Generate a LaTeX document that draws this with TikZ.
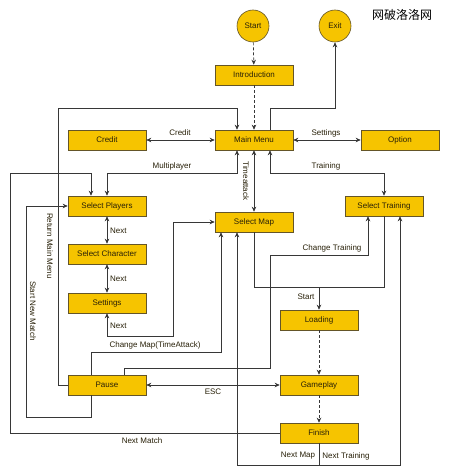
\documentclass[tikz,border=0pt]{standalone}
\usepackage{fontspec}
\setmainfont{Liberation Sans}
\newfontfamily\cjk{Noto Sans CJK SC}
\usetikzlibrary{arrows.meta,calc}
\definecolor{boxfill}{RGB}{246,196,0}
\definecolor{boxline}{RGB}{100,85,40}
\definecolor{linec}{RGB}{55,55,55}
\definecolor{txt}{RGB}{40,32,8}
\begin{document}
\begin{tikzpicture}[x=1pt,y=-1pt,
  box/.style={draw=boxline, fill=boxfill, line width=0.6pt, minimum width=78pt, minimum height=20pt, inner sep=0pt, font=\fontsize{8}{9}\selectfont, text=txt},
  term/.style={circle, draw=boxline, fill=boxfill, line width=0.6pt, minimum size=32pt, inner sep=0pt, font=\fontsize{8}{9}\selectfont, text=txt},
  link/.style={draw=linec, line width=0.7pt, -{Stealth[length=5pt,width=4.5pt]}},
  both/.style={draw=linec, line width=0.7pt, {Stealth[length=5pt,width=4.5pt]}-{Stealth[length=5pt,width=4.5pt]}},
  plain/.style={draw=linec, line width=0.7pt},
  dashlink/.style={link, dash pattern=on 3pt off 2pt},
  lab/.style={font=\fontsize{8}{9}\selectfont, text=txt, inner sep=0pt}
]
\useasboundingbox[fill=white] (0,0) rectangle (449,476);

% watermark
\node[font=\cjk\fontsize{12}{14}\selectfont, inner sep=0pt] (wm) at (402,15) {网破洛洛网};

% nodes
\node[term] (start) at (253,26) {Start};
\node[term] (exit) at (335,26) {Exit};
\node[box] (intro) at (254,75) {Introduction};
\node[box] (mm) at (254,140) {Main Menu};
\node[box] (credit) at (107,140) {Credit};
\node[box] (option) at (400,140) {Option};
\node[box] (sp) at (107,206) {Select Players};
\node[box] (smap) at (254,222) {Select Map};
\node[box] (st) at (384,206) {Select Training};
\node[box] (sc) at (107,254) {Select Character};
\node[box] (set) at (107,303) {Settings};
\node[box] (load) at (319,320) {Loading};
\node[box] (pause) at (107,385) {Pause};
\node[box] (game) at (319,385) {Gameplay};
\node[box] (fin) at (319,433) {Finish};

% coordinates
\coordinate (e1) at (270,108);
\coordinate (e2) at (335,108);
\coordinate (r1) at (58,385);
\coordinate (r2) at (58,108);
\coordinate (r3) at (237,108);
\coordinate (m1) at (237,173);
\coordinate (m2) at (107,173);
\coordinate (t1) at (270,173);
\coordinate (t2) at (384,173);
\coordinate (n1) at (10,433);
\coordinate (n2) at (10,173);
\coordinate (n3) at (91,173);
\coordinate (s1) at (91,417);
\coordinate (s2) at (26,417);
\coordinate (s3) at (26,206);
\coordinate (q1) at (107,336);
\coordinate (q2) at (173,336);
\coordinate (q3) at (173,222);
\coordinate (c1) at (91,352);
\coordinate (c2) at (221,352);
\coordinate (d1) at (124,368);
\coordinate (d2) at (270,368);
\coordinate (d3) at (270,255);
\coordinate (d4) at (368,255);
\coordinate (u1) at (254,287);
\coordinate (u2) at (384,287);
\coordinate (u3) at (319,287);
\coordinate (w1) at (319,465);
\coordinate (w2) at (237,465);
\coordinate (w3) at (400,465);

% connectors
\draw[dashlink] (start) -- (intro);
\draw[dashlink] (intro) -- (mm);
\draw[link] ($(mm.north)+(16,0)$) -- (e1) -- (e2) -- (exit);
\draw[link] (pause.west) -- (r1) -- (r2) -- (r3) -- ($(mm.north)+(-17,0)$);
\draw[both] (credit) -- (mm);
\draw[both] (mm) -- (option);
\draw[both] ($(mm.south)+(-17,0)$) -- (m1) -- (m2) -- (sp);
\draw[both] (mm) -- (smap);
\draw[both] ($(mm.south)+(16,0)$) -- (t1) -- (t2) -- (st);
\draw[link] (fin.west) -- (n1) -- (n2) -- (n3) -- ($(sp.north)+(-16,0)$);
\draw[link] ($(pause.south)+(-16,0)$) -- (s1) -- (s2) -- (s3) -- (sp.west);
\draw[both] (sp) -- (sc);
\draw[both] (sc) -- (set);
\draw[both] (set.south) -- (q1) -- (q2) -- (q3) -- (smap.west);
\draw[link] ($(pause.north)+(-16,0)$) -- (c1) -- (c2) -- ($(smap.south)+(-33,0)$);
\draw[link] ($(pause.north)+(17,0)$) -- (d1) -- (d2) -- (d3) -- (d4) -- ($(st.south)+(-16,0)$);
\draw[both] (pause) -- (game);
\draw[plain] (smap.south) -- (u1) -- (u2) -- (st.south);
\draw[link] (u3) -- (load);
\draw[dashlink] (load) -- (game);
\draw[dashlink] (game) -- (fin);
\draw[link] (fin.south) -- (w1) -- (w2) -- ($(smap.south)+(-17,0)$);
\draw[link] (w1) -- (w3) -- ($(st.south)+(16,0)$);

% labels
\node[lab] (lcredit) at (180,133) {Credit};
\node[lab] (lsettings) at (326,133) {Settings};
\node[lab] (lmulti) at (172,166) {Multiplayer};
\node[lab] (ltrain) at (326,166) {Training};
\node[lab, rotate=-90] (ltime) at (246,181) {Timeattack};
\node[lab, rotate=-90] (lret) at (50,246) {Return Main Menu};
\node[lab, rotate=-90] (lsnm) at (33,311) {Start New Match};
\node[lab, anchor=west] (ln1) at (110,231) {Next};
\node[lab, anchor=west] (ln2) at (110,279) {Next};
\node[lab, anchor=west] (ln3) at (110,326) {Next};
\node[lab] (lcm) at (155,345) {Change Map(TimeAttack)};
\node[lab] (lct) at (332,248) {Change Training};
\node[lab] (lstart) at (306,297) {Start};
\node[lab] (lesc) at (213,392) {ESC};
\node[lab] (lnm) at (142,441) {Next Match};
\node[lab] (lnmap) at (298,456) {Next Map};
\node[lab] (lntr) at (346,456) {Next Training};
\end{tikzpicture}
\end{document}
